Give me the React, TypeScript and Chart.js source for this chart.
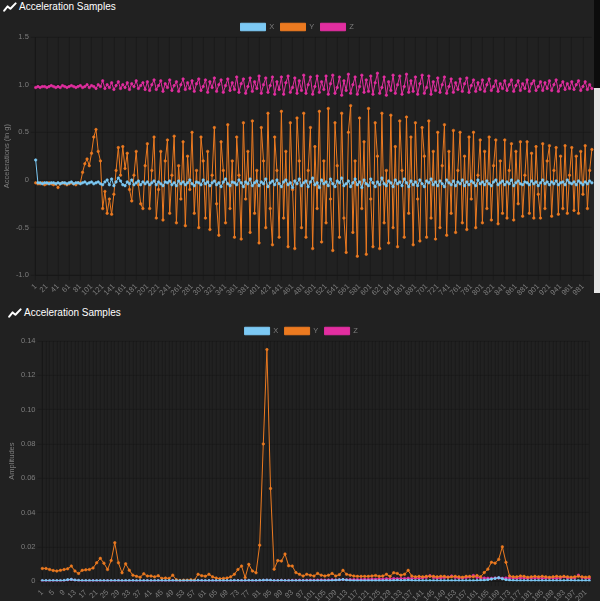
import React, { useEffect, useRef } from 'react';
import { Chart, registerables } from 'chart.js';

Chart.register(...registerables);

const SERIES_NAMES = ['X', 'Y', 'Z'];
const SERIES_COLORS = ['#7cc9f4', '#ec7a20', '#e22ea0'];
const BG = '#212121';
const GRID = 'rgba(0,0,0,0.3)';
const TEXT = '#7d7d7d';
const FONT = '"Liberation Sans", Arial, sans-serif';
const DPR = 0.625; // the chart is drawn with Chart.js default sizes at 62.5 %

// ---------- Top chart: raw acceleration samples (every 4th sample) ----------
const SAMPLE_LABELS: string[] = Array.from({ length: 250 }, (_, i) => String(1 + i * 4));
const ACC_Y_TICKS = [1.5, 1.0, 0.5, 0, -0.5, -1.0];

const ACC_X = [
  0.21, -0.03, -0.03, -0.04, -0.03, -0.03, -0.04, -0.03, -0.03, -0.04,
  -0.03, -0.04, -0.03, -0.03, -0.04, -0.03, -0.02, -0.04, -0.03, -0.03,
  -0.04, -0.03, -0.02, -0.04, -0.03, -0.02, -0.04, -0.03, -0.02, -0.04,
  -0.05, -0.02, 0.0, -0.05, 0.01, -0.06, -0.02, 0.02, -0.01, -0.05,
  -0.06, -0.02, -0.04, 0.0, -0.05, -0.03, -0.01, -0.05, -0.02, -0.04,
  -0.02, -0.05, -0.03, -0.01, -0.05, -0.02, -0.04, -0.06, -0.02, -0.03,
  -0.01, -0.05, -0.03, -0.06, -0.01, -0.04, -0.02, -0.05, -0.03, 0.0,
  -0.04, -0.06, -0.02, -0.03, -0.05, 0.0, -0.04, -0.02, -0.06, -0.03,
  -0.01, -0.05, -0.03, -0.07, -0.02, 0.01, -0.04, -0.06, -0.02, -0.03,
  -0.05, 0.0, -0.03, -0.07, -0.02, -0.04, 0.01, -0.06, -0.03, -0.01,
  -0.06, -0.02, -0.04, 0.01, -0.07, -0.03, -0.01, -0.05, 0.0, -0.04,
  -0.07, -0.02, 0.0, -0.05, -0.03, -0.08, -0.01, -0.04, 0.01, -0.06,
  -0.03, -0.01, -0.07, -0.02, 0.02, -0.05, -0.03, -0.08, 0.0, -0.04,
  -0.02, -0.06, 0.01, -0.04, -0.07, -0.01, -0.03, 0.02, -0.06, -0.04,
  -0.01, -0.07, -0.03, 0.01, -0.05, -0.02, -0.08, 0.0, -0.04, -0.06,
  0.01, -0.03, -0.07, -0.02, -0.05, 0.02, -0.04, -0.06, -0.01, -0.03,
  -0.07, 0.0, -0.04, -0.02, -0.06, 0.01, -0.03, -0.07, -0.01, -0.05,
  -0.02, -0.06, 0.0, -0.04, -0.07, -0.01, -0.03, 0.01, -0.05, -0.02,
  -0.06, -0.01, -0.04, -0.07, 0.0, -0.03, -0.05, -0.01, -0.06, -0.02,
  -0.04, 0.0, -0.06, -0.02, -0.05, -0.01, -0.03, -0.06, 0.0, -0.04,
  -0.02, -0.05, -0.01, -0.04, -0.06, -0.02, 0.0, -0.05, -0.03, -0.01,
  -0.05, -0.02, -0.04, 0.0, -0.06, -0.03, -0.01, -0.04, -0.05, -0.02,
  -0.03, -0.05, -0.01, -0.04, -0.02, -0.06, -0.03, 0.0, -0.04, -0.02,
  -0.05, -0.02, -0.04, -0.01, -0.05, -0.03, -0.02, -0.05, 0.0, -0.03,
  -0.04, -0.02, -0.05, -0.01, -0.03, -0.05, -0.02, -0.04, -0.01, -0.03,
];

const ACC_Y = [
  -0.03, -0.04, -0.04, -0.03, -0.05, -0.04, -0.03, -0.04, -0.05, -0.04,
  -0.08, -0.04, -0.03, -0.04, -0.05, -0.04, -0.03, -0.04, -0.05, -0.03,
  -0.03, 0.08, 0.17, 0.22, 0.15, 0.28, 0.45, 0.53, 0.3, 0.2,
  -0.3, -0.12, -0.35, -0.2, -0.36, -0.15, 0.1, 0.34, 0.05, 0.35,
  0.12, 0.28, -0.1, -0.22, 0.05, 0.3, -0.05, -0.25, -0.3, 0.15,
  0.38, -0.3, 0.1, 0.45, -0.4, -0.1, 0.3, -0.42, 0.2, 0.42,
  -0.35, 0.05, 0.46, -0.45, 0.15, -0.2, 0.4, -0.48, 0.25, -0.1,
  0.5, -0.35, 0.1, -0.5, 0.45, 0.2, -0.4, 0.3, -0.52, 0.05,
  0.55, -0.25, -0.58, 0.4, 0.1, -0.45, 0.58, -0.3, 0.2, -0.6,
  0.45, 0.05, -0.62, 0.6, -0.2, 0.3, -0.55, 0.62, -0.35, 0.1,
  -0.66, 0.55, 0.2, -0.5, 0.7, -0.3, -0.68, 0.45, 0.1, -0.6,
  0.72, -0.4, 0.3, -0.7, 0.6, -0.1, -0.72, 0.65, 0.2, -0.5,
  0.7, -0.6, 0.1, 0.55, -0.72, 0.35, -0.3, 0.72, -0.65, 0.2,
  -0.45, 0.75, -0.2, -0.74, 0.6, 0.15, -0.6, 0.7, -0.4, -0.76,
  0.5, 0.78, -0.55, 0.2, -0.8, 0.65, -0.3, 0.4, -0.78, 0.75,
  -0.2, -0.7, 0.6, 0.25, -0.72, 0.7, -0.45, 0.1, -0.66, 0.68,
  -0.5, 0.35, -0.7, 0.62, 0.1, -0.6, 0.66, -0.35, 0.45, -0.68,
  0.6, -0.2, -0.64, 0.55, 0.25, -0.6, 0.62, -0.4, 0.3, -0.62,
  0.5, -0.5, 0.15, 0.58, -0.58, 0.3, -0.35, 0.52, -0.55, 0.1,
  0.5, -0.45, 0.25, -0.52, 0.45, -0.2, 0.5, -0.5, 0.05, 0.42,
  -0.45, 0.3, -0.3, 0.45, -0.42, 0.15, 0.42, -0.46, 0.2, -0.35,
  0.42, -0.4, 0.1, 0.38, -0.42, 0.3, -0.25, 0.4, -0.38, 0.05,
  0.4, -0.35, 0.28, -0.4, 0.35, -0.15, -0.4, 0.38, -0.3, 0.2,
  0.36, -0.38, 0.1, 0.34, -0.36, 0.25, -0.3, 0.36, -0.35, 0.05,
  0.34, -0.32, 0.25, -0.35, 0.3, -0.15, 0.36, -0.3, 0.1, 0.32,
];

const ACC_Z = [
  0.97, 0.98, 0.97, 0.98, 0.98, 0.97, 0.98, 0.99, 0.98, 0.97,
  0.98, 0.97, 0.99, 0.98, 0.97, 0.98, 0.99, 0.98, 0.97, 0.98,
  0.99, 0.97, 0.98, 1.0, 0.97, 0.99, 0.98, 0.96, 1.0, 0.98,
  1.04, 0.96, 1.0, 0.97, 1.02, 0.95, 0.99, 1.03, 0.96, 1.0,
  0.97, 1.02, 0.95, 1.01, 0.98, 1.04, 0.96, 0.99, 1.02, 0.95,
  1.03, 0.94, 1.0, 1.05, 0.95, 0.99, 1.04, 0.93, 1.01, 0.97,
  1.05, 0.94, 0.99, 1.03, 0.93, 1.0, 1.06, 0.95, 1.02, 0.96,
  1.04, 0.93, 1.01, 1.06, 0.94, 0.98, 1.05, 0.92, 1.03, 0.97,
  1.07, 0.93, 1.0, 1.05, 0.92, 0.99, 1.06, 0.94, 1.02, 0.95,
  1.08, 0.92, 1.01, 1.06, 0.91, 0.98, 1.07, 0.93, 1.03, 0.96,
  1.09, 0.91, 1.0, 1.07, 0.92, 0.99, 1.08, 0.9, 1.03, 0.95,
  1.08, 0.9, 1.02, 1.09, 0.92, 0.97, 1.07, 0.91, 1.04, 0.94,
  1.1, 0.91, 1.0, 1.08, 0.9, 0.98, 1.09, 0.92, 1.03, 0.95,
  1.09, 0.9, 1.01, 1.1, 0.91, 0.97, 1.08, 0.89, 1.04, 0.94,
  1.11, 0.91, 1.0, 1.08, 0.9, 0.98, 1.1, 0.92, 1.05, 0.93,
  1.09, 0.9, 1.02, 1.12, 0.91, 0.97, 1.08, 0.89, 1.03, 0.94,
  1.1, 0.91, 1.0, 1.09, 0.9, 0.98, 1.11, 0.92, 1.04, 0.93,
  1.08, 0.9, 1.01, 1.1, 0.91, 0.97, 1.09, 0.9, 1.03, 0.94,
  1.07, 0.92, 1.0, 1.08, 0.91, 0.98, 1.06, 0.92, 1.02, 0.95,
  1.06, 0.93, 1.01, 1.07, 0.92, 0.99, 1.05, 0.93, 1.02, 0.95,
  1.05, 0.93, 1.0, 1.06, 0.94, 0.98, 1.04, 0.93, 1.01, 0.96,
  1.04, 0.94, 1.0, 1.05, 0.93, 0.99, 1.04, 0.94, 1.01, 0.96,
  1.05, 0.93, 1.01, 1.04, 0.94, 0.98, 1.03, 0.94, 1.02, 0.96,
  1.04, 0.94, 1.0, 1.05, 0.93, 0.99, 1.03, 0.95, 1.01, 0.96,
  1.03, 0.95, 1.0, 1.04, 0.94, 0.98, 1.03, 0.95, 1.0, 0.96,
];

// ---------- Bottom chart: spectrum amplitudes ----------
const BIN_LABELS: string[] = Array.from({ length: 152 }, (_, i) => String(Math.round(1 + (i * 4) / 3)));
const AMP_Y_TICKS = [0.14, 0.12, 0.1, 0.08, 0.06, 0.04, 0.02, 0];

const AMP_X = [
  0.0003, 0.0003, 0.0003, 0.0003, 0.0003, 0.0003, 0.0004, 0.0008, 0.001, 0.0006,
  0.0004, 0.0003, 0.0003, 0.0003, 0.0002, 0.0003, 0.0003, 0.0003, 0.0002, 0.0003,
  0.0003, 0.0003, 0.0002, 0.0003, 0.0003, 0.0003, 0.0002, 0.0003, 0.0003, 0.0003,
  0.0002, 0.0003, 0.0003, 0.0003, 0.0002, 0.0003, 0.0003, 0.0003, 0.0002, 0.0003,
  0.0003, 0.0003, 0.0003, 0.0004, 0.0003, 0.0003, 0.0003, 0.0002, 0.0003, 0.0003,
  0.0003, 0.0003, 0.0003, 0.0004, 0.0003, 0.0003, 0.0003, 0.0004, 0.0003, 0.0003,
  0.0004, 0.0005, 0.0006, 0.0005, 0.0003, 0.0003, 0.0004, 0.0003, 0.0003, 0.0003,
  0.0003, 0.0003, 0.0003, 0.0003, 0.0003, 0.0003, 0.0003, 0.0003, 0.0003, 0.0003,
  0.0004, 0.0005, 0.0007, 0.0009, 0.0006, 0.0004, 0.0003, 0.0003, 0.0003, 0.0003,
  0.0003, 0.0003, 0.0003, 0.0003, 0.0003, 0.0004, 0.0003, 0.0004, 0.0005, 0.0004,
  0.0004, 0.0006, 0.0004, 0.0003, 0.0003, 0.0003, 0.0003, 0.0003, 0.0003, 0.0003,
  0.0003, 0.0003, 0.0003, 0.0003, 0.0003, 0.0003, 0.0003, 0.0003, 0.0003, 0.0003,
  0.0004, 0.0005, 0.0006, 0.0008, 0.0012, 0.0016, 0.002, 0.0014, 0.0008, 0.0005,
  0.0004, 0.0003, 0.0003, 0.0003, 0.0003, 0.0003, 0.0003, 0.0003, 0.0003, 0.0003,
  0.0003, 0.0003, 0.0003, 0.0003, 0.0003, 0.0004, 0.0004, 0.0003, 0.0003, 0.0003,
  0.0003, 0.0003,
];

const AMP_Y = [
  0.0074, 0.0074, 0.0068, 0.0062, 0.0059, 0.0063, 0.0068, 0.0072, 0.0088, 0.0059,
  0.0045, 0.0063, 0.0066, 0.0068, 0.0077, 0.0107, 0.0133, 0.0105, 0.0068, 0.012,
  0.0224, 0.0107, 0.0049, 0.0101, 0.0064, 0.0035, 0.0028, 0.0023, 0.0043, 0.003,
  0.003, 0.0025, 0.0032, 0.0016, 0.0018, 0.0016, 0.0035, 0.0008, 0.0004, 0.0006,
  0.0006, 0.0008, 0.0006, 0.004, 0.0032, 0.0029, 0.004, 0.0025, 0.0018, 0.0014,
  0.0016, 0.0018, 0.0025, 0.004, 0.0068, 0.0088, 0.0021, 0.0098, 0.0059, 0.0049,
  0.021, 0.08, 0.135, 0.054, 0.007, 0.012, 0.0117, 0.0158, 0.009, 0.0088,
  0.005, 0.004, 0.003, 0.004, 0.0035, 0.003, 0.0045, 0.0035, 0.003, 0.0035,
  0.0045, 0.003, 0.0038, 0.0063, 0.004, 0.0035, 0.003, 0.0028, 0.0028, 0.0028,
  0.0028, 0.003, 0.0033, 0.0028, 0.003, 0.004, 0.0028, 0.0049, 0.0045, 0.0035,
  0.004, 0.0063, 0.003, 0.0025, 0.0028, 0.0025, 0.0028, 0.0028, 0.0028, 0.0025,
  0.0028, 0.0028, 0.0023, 0.0025, 0.0028, 0.0025, 0.0023, 0.0028, 0.0028, 0.0025,
  0.0033, 0.0025, 0.005, 0.007, 0.011, 0.0105, 0.0127, 0.02, 0.011, 0.003,
  0.0025, 0.0025, 0.003, 0.0028, 0.0023, 0.0025, 0.0028, 0.0025, 0.0028, 0.0025,
  0.0023, 0.0025, 0.0028, 0.0025, 0.0028, 0.0025, 0.0023, 0.0025, 0.0028, 0.0025,
  0.0023, 0.0025,
];

const AMP_Z = [
  0.0001, 0.0001, 0.0001, 0.0002, 0.0001, 0.0001, 0.0002, 0.0006, 0.0009, 0.0005,
  0.0002, 0.0001, 0.0001, 0.0001, 0.0002, 0.0001, 0.0001, 0.0001, 0.0002, 0.0001,
  0.0001, 0.0002, 0.0001, 0.0001, 0.0001, 0.0002, 0.0001, 0.0001, 0.0001, 0.0002,
  0.0001, 0.0001, 0.0002, 0.0001, 0.0001, 0.0001, 0.0002, 0.0001, 0.0001, 0.0001,
  0.0002, 0.0001, 0.0001, 0.0002, 0.0002, 0.0001, 0.0002, 0.0002, 0.0001, 0.0002,
  0.0002, 0.0002, 0.0001, 0.0002, 0.0003, 0.0002, 0.0002, 0.0003, 0.0002, 0.0002,
  0.0003, 0.0004, 0.0005, 0.0004, 0.0003, 0.0003, 0.0004, 0.0003, 0.0003, 0.0004,
  0.0004, 0.0005, 0.0004, 0.0005, 0.0006, 0.0005, 0.0006, 0.0007, 0.0006, 0.0007,
  0.0008, 0.0007, 0.0008, 0.0009, 0.0008, 0.0009, 0.001, 0.0009, 0.001, 0.0011,
  0.001, 0.0012, 0.0011, 0.0013, 0.0012, 0.0014, 0.0013, 0.0015, 0.0014, 0.0016,
  0.0015, 0.0017, 0.0016, 0.0018, 0.0017, 0.0019, 0.0022, 0.0032, 0.0021, 0.0018,
  0.0019, 0.0021, 0.0024, 0.003, 0.0022, 0.0019, 0.0018, 0.0021, 0.0024, 0.0033,
  0.0022, 0.0019, 0.0018, 0.0017, 0.0016, 0.0018, 0.0019, 0.0017, 0.0018, 0.0019,
  0.0018, 0.0017, 0.0019, 0.0018, 0.0017, 0.0019, 0.0018, 0.0019, 0.0017, 0.0018,
  0.0019, 0.0018, 0.0017, 0.0019, 0.0025, 0.0019, 0.0018, 0.0019, 0.0035, 0.0021,
  0.0018, 0.0017,
];

type ChartProps = {
  labels: string[];
  series: number[][];
  yMin: number;
  yMax: number;
  yTicks: number[];
  yDecimals: number;
  yTitle: string;
  xTitle: string;
  labelEvery: number;
  gridEvery: number;
  width: number; // display px
  height: number; // display px
};

function LineChart(p: ChartProps) {
  const ref = useRef<HTMLCanvasElement | null>(null);
  useEffect(() => {
    if (!ref.current) return;
    const font = { family: FONT, size: 12 };
    const chart = new Chart(ref.current, {
      type: 'line',
      data: {
        labels: p.labels,
        datasets: p.series.map((d, i) => ({
          label: SERIES_NAMES[i],
          data: d,
          borderColor: SERIES_COLORS[i],
          backgroundColor: SERIES_COLORS[i],
          borderWidth: 1.6,
          pointRadius: 2,
          pointBorderWidth: 1,
          pointHoverRadius: 3,
          tension: 0,
          fill: false,
        })),
      },
      options: {
        animation: false,
        responsive: false,
        devicePixelRatio: DPR,
        font,
        plugins: {
          legend: {
            display: true,
            position: 'top',
            labels: { color: TEXT, font },
          },
          tooltip: { enabled: false },
        },
        scales: {
          x: {
            type: 'category',
            grid: { color: GRID },
            border: { color: GRID },
            ticks: {
              autoSkip: false,
              minRotation: 45,
              maxRotation: 45,
              color: TEXT,
              font,
              callback: (v: any) => (Number(v) % p.labelEvery === 0 ? p.labels[Number(v)] : ''),
            },
            afterBuildTicks: (s: any) => {
              s.ticks = s.ticks.filter((t: any) => t.value % p.gridEvery === 0);
            },
            title: { display: true, text: p.xTitle, color: TEXT, font },
          },
          y: {
            min: p.yMin,
            max: p.yMax,
            grid: { color: GRID },
            border: { color: GRID },
            afterBuildTicks: (s: any) => {
              s.ticks = p.yTicks.map((v) => ({ value: v }));
            },
            ticks: {
              color: TEXT,
              font,
              callback: (v: any) => (Number(v) === 0 ? '0' : Number(v).toFixed(p.yDecimals)),
            },
            title: { display: true, text: p.yTitle, color: TEXT, font },
          },
        },
      } as any,
    });
    return () => chart.destroy();
  }, []);
  return (
    <canvas
      ref={ref}
      width={Math.ceil(p.width / DPR)}
      height={Math.ceil(p.height / DPR)}
      style={{ display: 'block', width: p.width + 'px', height: p.height + 'px' }}
    />
  );
}

function Header() {
  return (
    <div style={{ display: 'flex', alignItems: 'center', height: 14, whiteSpace: 'nowrap' }}>
      <svg width="14" height="10" viewBox="0 0 14 10" style={{ marginRight: 2 }}>
        <polyline points="1.2,8.6 4.6,4.4 7.4,6.8 12.6,1.4" fill="none" stroke="#ffffff" strokeWidth="2" strokeLinejoin="round" strokeLinecap="round" />
      </svg>
      <span style={{ color: '#ffffff', fontSize: 10, fontFamily: FONT, lineHeight: '14px' }}>Acceleration Samples</span>
    </div>
  );
}

export default function App() {
  return (
    <div style={{ position: 'fixed', left: 0, top: 0, width: 600, height: 601, background: BG, overflow: 'hidden' }}>
      <div style={{ position: 'absolute', left: 0, top: 0, width: 600, height: 303, overflow: 'hidden' }}>
        <div style={{ position: 'absolute', left: 3, top: 0 }}>
          <Header />
        </div>
        <div style={{ position: 'absolute', left: 0, top: 17 }}>
          <LineChart
            labels={SAMPLE_LABELS}
            series={[ACC_X, ACC_Y, ACC_Z]}
            yMin={-1}
            yMax={1.5}
            yTicks={ACC_Y_TICKS}
            yDecimals={1}
            yTitle="Accelerations (in g)"
            xTitle="Samples"
            labelEvery={5}
            gridEvery={5}
            width={594}
            height={296}
          />
        </div>
        <div style={{ position: 'absolute', left: 594, top: 0, width: 6, height: 88, background: '#0c0c0c' }} />
        <div style={{ position: 'absolute', left: 594, top: 88, width: 6, height: 205, background: '#e6e6e6' }} />
      </div>
      <div style={{ position: 'absolute', left: 0, top: 303, width: 600, height: 298, overflow: 'hidden' }}>
        <div style={{ position: 'absolute', left: 8, top: 3 }}>
          <Header />
        </div>
        <div style={{ position: 'absolute', left: 5, top: 18 }}>
          <LineChart
            labels={BIN_LABELS}
            series={[AMP_X, AMP_Y, AMP_Z]}
            yMin={0}
            yMax={0.14}
            yTicks={AMP_Y_TICKS}
            yDecimals={2}
            yTitle="Amplitudes"
            xTitle="Frequencies"
            labelEvery={3}
            gridEvery={1}
            width={592}
            height={298}
          />
        </div>
      </div>
    </div>
  );
}
